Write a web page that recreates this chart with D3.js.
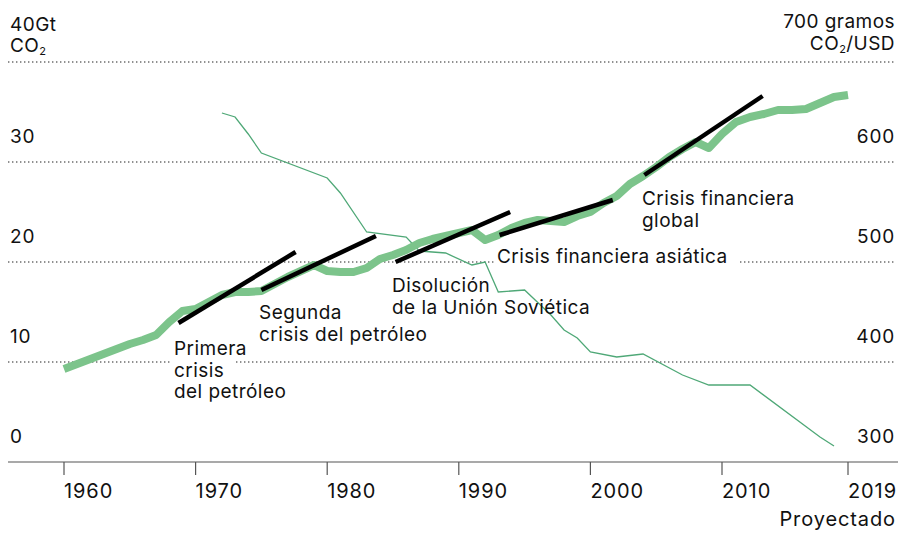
<!DOCTYPE html>
<html>
<head>
<meta charset="utf-8">
<script src="https://cdn.jsdelivr.net/npm/d3@7"></script>
<style>
  body { margin: 0; background: #fff; }
  svg text { font-family: Inter, "Open Sans", sans-serif; fill: #111; letter-spacing: 0.45px; }
</style>
</head>
<body>
<div id="chart"></div>
<script>
// Emisiones globales de CO2 (Gt), anual
var years = d3.range(1960, 2020);
var emissions = [9.3, 9.8, 10.3, 10.8, 11.3, 11.8, 12.2, 12.7, 14.0, 15.1,
                 15.3, 16.0, 16.7, 17.0, 17.0, 17.1, 17.8, 18.5, 19.1, 19.7,
                 19.1, 19.0, 19.0, 19.4, 20.3, 20.7, 21.2, 21.9, 22.3, 22.6,
                 22.9, 23.2, 22.2, 22.7, 23.4, 23.9, 24.2, 24.1, 24.0, 24.6,
                 25.0, 25.9, 26.6, 27.8, 28.6, 29.5, 30.5, 31.3, 32.0, 31.4,
                 32.8, 34.0, 34.5, 34.8, 35.2, 35.2, 35.3, 35.9, 36.5, 36.7];

// Intensidad de carbono (gramos CO2 / USD)
var intensityYears = [1972, 1973, 1974, 1975, 1980, 1981, 1983, 1986, 1987, 1989,
                      1991, 1992, 1993, 1995, 1997, 1998, 1999, 2000, 2002, 2004,
                      2007, 2009, 2012, 2017, 2018];
var intensity = [649, 645, 628, 609, 584, 569, 530, 525, 511, 509,
                 497, 500, 470, 472, 447, 432, 424, 410, 405, 408,
                 387, 377, 377, 325, 316];

// Tendencias (lineas negras)
var trendFrom = [1968.7, 1975.0, 1985.2, 1993.1, 2004.1];
var trendFromVal = [13.9, 17.2, 20.0, 22.7, 28.7];
var trendTo = [1977.6, 1983.7, 1993.9, 2001.7, 2012.9];
var trendToVal = [21.0, 22.6, 25.0, 26.2, 36.6];

var leftTicks = [0, 10, 20, 30, 40];
var rightTicks = [300, 400, 500, 600, 700];
var xTicks = [1960, 1970, 1980, 1990, 2000, 2010, 2019];

var notes = [
  {lines: ["Primera", "crisis", "del petróleo"], x: 174, y: 355},
  {lines: ["Segunda", "crisis del petróleo"], x: 259, y: 319},
  {lines: ["Disolución", "de la Unión Soviética"], x: 392, y: 292},
  {lines: ["Crisis financiera asiática"], x: 497, y: 263},
  {lines: ["Crisis financiera", "global"], x: 642, y: 205}
];

var W = 898, H = 533,
    fs = 19,
    lineH = 21.5;

var x = d3.scaleLinear().domain([1960, 2010, 2019]).range([64, 722, 848]);
var yL = d3.scaleLinear().domain([0, 40]).range([462, 62]);
var yR = d3.scaleLinear().domain([300, 700]).range([462, 62]);

var svg = d3.select("#chart").append("svg")
  .attr("width", W)
  .attr("height", H);

// gridlines
svg.append("g").selectAll("line")
  .data(leftTicks.slice(1))
  .enter().append("line")
    .attr("x1", 8).attr("x2", 896)
    .attr("y1", function(d){ return yL(d); })
    .attr("y2", function(d){ return yL(d); })
    .attr("stroke", "#222")
    .attr("stroke-width", 1.2)
    .attr("stroke-dasharray", "1.4,2.6");

// white boxes behind notes (hide the gridlines)
var noteBg = svg.append("g");

// baseline axis
svg.append("line")
  .attr("x1", 8).attr("x2", 898)
  .attr("y1", yL(0)).attr("y2", yL(0))
  .attr("stroke", "#555").attr("stroke-width", 1.2);

var xAxis = svg.append("g").selectAll("g")
  .data(xTicks)
  .enter().append("g")
    .attr("transform", function(d){ return "translate(" + x(d) + ",0)"; });

xAxis.append("line")
  .attr("y1", yL(0)).attr("y2", yL(0) + 13)
  .attr("stroke", "#555").attr("stroke-width", 1.2);

xAxis.append("text")
  .attr("y", 498)
  .style("font-size", "20px")
  .style("letter-spacing", "0.9px")
  .text(function(d){ return d; });

svg.append("text")
  .attr("x", 896).attr("y", 526)
  .attr("text-anchor", "end")
  .style("font-size", "20px")
  .style("letter-spacing", "0.9px")
  .text("Proyectado");

// left axis labels
svg.append("g").selectAll("text")
  .data(leftTicks.slice(0, 4))
  .enter().append("text")
    .attr("x", 10)
    .attr("y", function(d){ return yL(d) - 19; })
    .style("font-size", fs + "px")
    .style("letter-spacing", "0.8px")
    .text(function(d){ return d; });

svg.append("text")
  .attr("x", 10).attr("y", yL(40) - 31)
  .style("font-size", fs + "px")
  .text(leftTicks[4] + "Gt");

var co2L = svg.append("text")
  .attr("x", 10).attr("y", yL(40) - 10)
  .style("font-size", fs + "px");
co2L.append("tspan").text("CO");
co2L.append("tspan").attr("dy", 3).style("font-size", "11px").text("2");

// right axis labels
svg.append("g").selectAll("text")
  .data(rightTicks.slice(0, 4))
  .enter().append("text")
    .attr("x", 895)
    .attr("y", function(d){ return yR(d) - 19; })
    .attr("text-anchor", "end")
    .style("font-size", fs + "px")
    .style("letter-spacing", "0.8px")
    .text(function(d){ return d; });

svg.append("text")
  .attr("x", 895).attr("y", yR(700) - 34)
  .attr("text-anchor", "end")
  .style("font-size", fs + "px")
  .text(rightTicks[4] + " gramos");

var co2R = svg.append("text")
  .attr("x", 895).attr("y", yR(700) - 12)
  .attr("text-anchor", "end")
  .style("font-size", fs + "px");
co2R.append("tspan").text("CO");
co2R.append("tspan").attr("dy", 3).style("font-size", "11px").text("2");
co2R.append("tspan").attr("dy", -3).text("/USD");

// intensity line (thin)
svg.append("path")
  .datum(d3.zip(intensityYears, intensity))
  .attr("fill", "none")
  .attr("stroke", "#4fa877")
  .attr("stroke-width", 1.3)
  .attr("d", d3.line()
    .x(function(d){ return x(d[0]); })
    .y(function(d){ return yR(d[1]); }));

// emissions line (thick)
svg.append("path")
  .datum(d3.zip(years, emissions))
  .attr("fill", "none")
  .attr("stroke", "#7cc48b")
  .attr("stroke-width", 8)
  .attr("stroke-linejoin", "round")
  .attr("d", d3.line()
    .x(function(d){ return x(d[0]); })
    .y(function(d){ return yL(d[1]); }));

// trend lines
svg.append("g").selectAll("line")
  .data(d3.range(trendFrom.length))
  .enter().append("line")
    .attr("x1", function(i){ return x(trendFrom[i]); })
    .attr("y1", function(i){ return yL(trendFromVal[i]); })
    .attr("x2", function(i){ return x(trendTo[i]); })
    .attr("y2", function(i){ return yL(trendToVal[i]); })
    .attr("stroke", "#000")
    .attr("stroke-width", 4.5);

// notes
notes.forEach(function(n){
  n.lines.forEach(function(t, j){
    var txt = svg.append("text")
      .attr("x", n.x)
      .attr("y", n.y + j*lineH)
      .style("font-size", fs + "px")
      .text(t);
    var b = txt.node().getBBox();
    noteBg.append("rect")
      .attr("x", b.x - 3).attr("y", b.y)
      .attr("width", b.width + 14).attr("height", b.height)
      .attr("fill", "#fff");
  });
});
</script>
</body>
</html>
